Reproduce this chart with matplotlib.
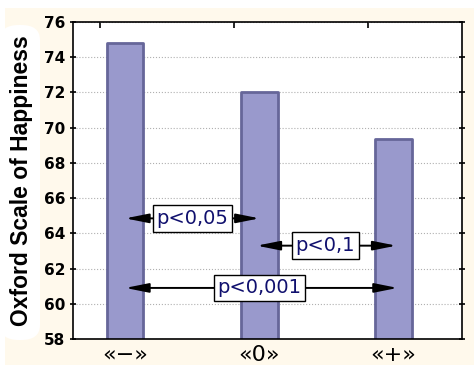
import matplotlib
matplotlib.use('Agg')
import matplotlib.pyplot as plt
from matplotlib.patches import Rectangle, FancyBboxPatch
from matplotlib.ticker import FixedLocator
import numpy as np

# data
categories = ['«−»', '«0»', '«+»']
means = [74.8, 72.05, 69.35]

# pairwise comparisons: (from, to, arrow y, label x, label)
comp_from = [0.0, 0.98, 0.0]
comp_to = [1.0, 2.02, 2.03]
comp_y = [64.85, 63.3, 60.9]
comp_labelx = [0.5, 1.49, 1.0]
comp_labels = ['p<0,05', 'p<0,1', 'p<0,001']

yticks = np.arange(58, 77, 2)

fig = plt.figure(figsize=(4.74, 3.74), dpi=100, facecolor='white')

# cream background panel with white rounded strip behind ylabel
fig.patches.append(Rectangle((5/474, 1 - 365/374), 469/474, 357/374,
                             transform=fig.transFigure, facecolor='#FFF9EC',
                             edgecolor='none', zorder=-2))
fig.patches.append(FancyBboxPatch((0.0, 1 - 340/374), 40/474, 315/374,
                                  boxstyle='round,pad=0,rounding_size=0.04',
                                  transform=fig.transFigure, facecolor='white',
                                  edgecolor='none', zorder=-1))

ax = fig.add_axes([73/474, 1 - 339/374, 389/474, 317/374])
ax.set_zorder(1)
x = np.arange(len(categories))

ax.bar(x, means, width=0.27, color='#9999CC', edgecolor='#666699',
       linewidth=2, joinstyle='round', zorder=2)

ax.set_ylim(58, 76)
ax.set_xlim(-0.39, 2.51)
ax.set_yticks(yticks)
ax.set_yticklabels([str(v) for v in yticks], fontsize=11, fontweight='bold',
                   family='DejaVu Sans')
ax.set_xticks(x)
ax.set_xticklabels(categories, fontsize=16, family='DejaVu Sans')
ax.tick_params(axis='x', which='major', length=0, pad=4)
ax.xaxis.set_minor_locator(FixedLocator([-0.19, 0.81, 1.81]))
ax.tick_params(axis='x', which='minor', bottom=False, top=True,
               direction='in', length=4, width=1.2)
ax.tick_params(axis='y', direction='inout', length=5, right=True, pad=3, width=1.2)
ax.grid(axis='y', linestyle=':', color='#b0b0b0', linewidth=0.8, zorder=0)

for sp in ax.spines.values():
    sp.set_linewidth(1.2)

ax.set_ylabel('Oxford Scale of Happiness', fontsize=16.5, fontweight='bold',
              family='Liberation Sans', labelpad=8)

for x0, x1, yy, lx, lab in zip(comp_from, comp_to, comp_y, comp_labelx, comp_labels):
    ax.annotate('', xy=(x1, yy), xytext=(x0, yy),
                arrowprops=dict(arrowstyle='<|-|>,head_length=1.0,head_width=0.2',
                                color='black', lw=1.4, shrinkA=0, shrinkB=0,
                                mutation_scale=14), zorder=3)
    ax.text(lx, yy, lab, ha='center', va='center', fontsize=14, color='#10106E',
            family='DejaVu Sans', zorder=4,
            bbox=dict(boxstyle='square,pad=0.2', facecolor='white',
                      edgecolor='black', linewidth=1))

fig.savefig('out.png', dpi=100, facecolor=fig.get_facecolor())
